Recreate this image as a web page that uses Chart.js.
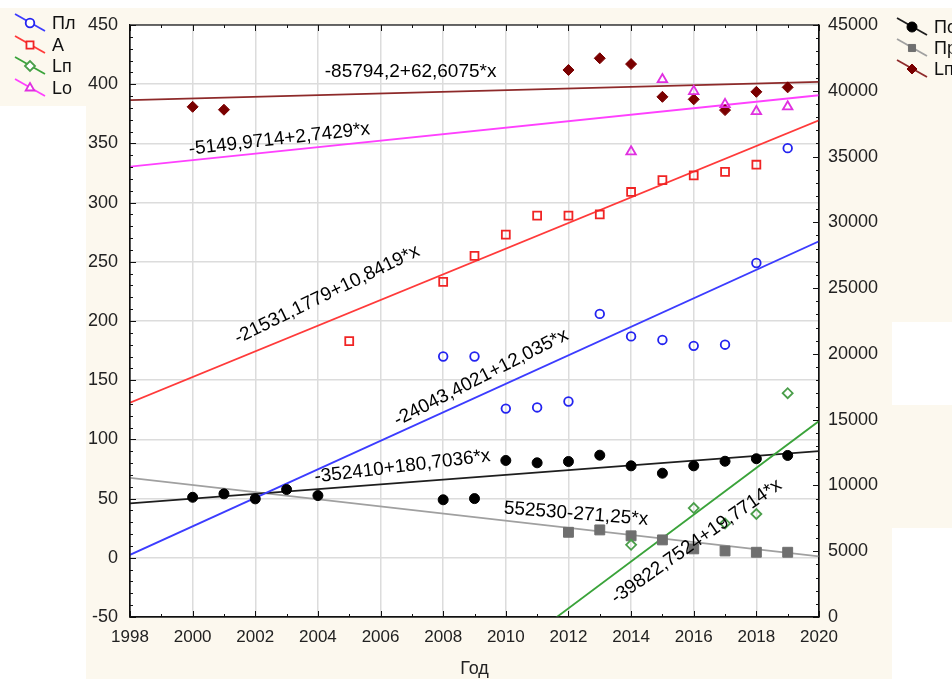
<!DOCTYPE html>
<html><head><meta charset="utf-8">
<script src="https://cdn.jsdelivr.net/npm/chart.js@4.4.1/dist/chart.umd.min.js"></script>
<style>html,body{margin:0;padding:0;background:#fcf8ee;}#wrap{width:952px;height:679px;}</style>
</head><body><div id="wrap"><canvas id="c" width="952" height="679"></canvas></div>
<script>
// ---- data ----
const xTickLabels = [1998,2000,2002,2004,2006,2008,2010,2012,2014,2016,2018,2020];
const leftTickLabels = [-50,0,50,100,150,200,250,300,350,400,450];
const rightTickLabels = [0,5000,10000,15000,20000,25000,30000,35000,40000,45000];

// left axis series
const plYears = [2008,2009,2010,2011,2012,2013,2014,2015,2016,2017,2018,2019];
const plValues = [170,170,126,127,132,206,187,184,179,180,249,346];
const aYears = [2005,2008,2009,2010,2011,2012,2013,2014,2015,2016,2017,2018];
const aValues = [183,233,255,273,289,289,290,309,319,323,326,332];
const lpLeftYears = [2014,2016,2017,2018,2019];
const lpLeftValues = [11,42,29,37,139];
const loYears = [2014,2015,2016,2017,2018,2019];
const loValues = [343,404,394,383,377,381];
// right axis series
const poYears = [2000,2001,2002,2003,2004,2008,2009,2010,2011,2012,2013,2014,2015,2016,2017,2018,2019];
const poValues = [9100,9360,8980,9690,9230,8910,9000,11900,11720,11820,12300,11490,10930,11490,11840,12030,12280];
const prYears = [2012,2013,2014,2015,2016,2017,2018,2019];
const prValues = [6440,6620,6170,5860,5180,5020,4920,4920];
const lpRightYears = [2000,2001,2012,2013,2014,2015,2016,2017,2018,2019];
const lpRightValues = [38780,38560,41580,42470,42030,39540,39350,38530,39920,40260];

// fitted lines, as printed on the chart: y = a + b*x
const fitNames = ['Пл','A','Lп','Lo','По','Пр','Lп2'];
const fitIntercepts = [-24043.4021,-21531.1779,-39822.7524,-5149.9714,-352410,552530,-85794.2];
const fitSlopes = [12.035,10.8419,19.7714,2.7429,180.7036,-271.25,62.6075];
const fitTexts = ['-24043,4021+12,035*x','-21531,1779+10,8419*x','-39822,7524+19,7714*x','-5149,9714+2,7429*x','-352410+180,7036*x','552530-271,25*x','-85794,2+62,6075*x'];
const xRange = [1998,2020];

// ---- build ----
const pts = (xs,vs)=>xs.map((x,i)=>({x:x,y:vs[i]}));
const fitPts = i => xRange.map(x=>({x:x,y:fitIntercepts[i]+fitSlopes[i]*x}));

const series = [
  {label:'Пл', d:pts(plYears,plValues), axis:'y', color:'#2323f0', line:'#3c3cff', style:'circle', r:4.3, fill:false, fit:0},
  {label:'A', d:pts(aYears,aValues), axis:'y', color:'#f02424', line:'#ff3a3a', style:'rect', r:5.6, fill:false, fit:1},
  {label:'Lп', d:pts(lpLeftYears,lpLeftValues), axis:'y', color:'#4a9e4a', line:'#3aa33a', style:'rectRot', r:5, fill:false, fit:2},
  {label:'Lo', d:pts(loYears,loValues), axis:'y', color:'#e030e0', line:'#ff40ff', style:'triangle', r:5.5, fill:false, fit:3},
  {label:'По', d:pts(poYears,poValues), axis:'y2', color:'#000000', line:'#1e1e1e', style:'circle', r:5, fill:true, fit:4},
  {label:'Пр', d:pts(prYears,prValues), axis:'y2', color:'#6f6f6f', line:'#a0a0a0', style:'rect', r:7, fill:true, fit:5},
  {label:'Lп', d:pts(lpRightYears,lpRightValues), axis:'y2', color:'#7a0000', line:'#8e2a2a', style:'rectRot', r:5.5, fill:true, fit:6}
];

const datasets = [];
series.forEach(s=>{
  datasets.push({label:s.label, data:s.d, yAxisID:s.axis, showLine:false, order:0,
    pointStyle:s.style, pointRadius:s.r, pointHoverRadius:s.r,
    pointBorderColor:s.color, pointBackgroundColor:s.fill?s.color:'rgba(0,0,0,0)', pointBorderWidth:s.fill?1:1.8});
});
series.forEach(s=>{
  datasets.push({label:'fit '+s.label, data:fitPts(s.fit), yAxisID:s.axis, showLine:true, order:1,
    borderColor:s.line, borderWidth:1.8, pointRadius:0, fill:false});
});

// label placements for the equations (centre in year / left-axis units, angle in degrees)
const eqPlaces = [
  {fit:6, x:2006.96, y:410.4, a:0},
  {fit:3, x:2002.77, y:353.5, a:-6.5},
  {fit:1, x:2004.29, y:222.2, a:-26},
  {fit:0, x:2009.21, y:152.1, a:-27},
  {fit:4, x:2006.70, y:77, a:-7},
  {fit:5, x:2012.24, y:37, a:4.5},
  {fit:2, x:2016.09, y:13.7, a:-35}
];

const FONT = '"Liberation Sans", Arial, sans-serif';
const decor = {
  id:'decor',
  beforeDraw(chart){
    const ctx=chart.ctx, a=chart.chartArea;
    ctx.save();
    ctx.fillStyle='#fcf8ee'; ctx.fillRect(0,0,chart.width,chart.height);
    ctx.fillStyle='#ffffff';
    [[0,0,952,8],[0,106,86,573],[892,322,60,83],[892,528,60,151]].forEach(r=>ctx.fillRect(r[0],r[1],r[2],r[3]));
    ctx.fillRect(a.left,a.top,a.right-a.left,a.bottom-a.top);
    ctx.restore();
  },
  afterDatasetsDraw(chart){
    const ctx=chart.ctx, xs=chart.scales.x, ys=chart.scales.y;
    ctx.save();
    ctx.font='19px '+FONT;
    ctx.fillStyle='#000'; ctx.textAlign='center'; ctx.textBaseline='middle';
    eqPlaces.forEach(p=>{
      ctx.save();
      ctx.translate(xs.getPixelForValue(p.x), ys.getPixelForValue(p.y));
      ctx.rotate(p.a*Math.PI/180);
      ctx.fillText(fitTexts[p.fit],0,0);
      ctx.restore();
    });
    ctx.restore();
  },
  afterDraw(chart){
    const ctx=chart.ctx, a=chart.chartArea, xs=chart.scales.x, ys=chart.scales.y, y2=chart.scales.y2;
    ctx.save();
    ctx.strokeStyle='#111'; ctx.lineWidth=1.2;
    ctx.strokeRect(a.left,a.top,a.right-a.left,a.bottom-a.top);
    ctx.beginPath();
    for(let v=-50; v<=450; v+=10){
      const p=Math.round(ys.getPixelForValue(v))+0.5, L=(v%50===0)?6:3;
      ctx.moveTo(a.left,p); ctx.lineTo(a.left+L,p);
    }
    for(let v=0; v<=45000; v+=1000){
      const p=Math.round(y2.getPixelForValue(v))+0.5, L=(v%5000===0)?6:3;
      ctx.moveTo(a.right,p); ctx.lineTo(a.right-L,p);
    }
    for(let v=1998; v<=2020; v++){
      const p=Math.round(xs.getPixelForValue(v))+0.5, L=(v%2===0)?6:3;
      ctx.moveTo(p,a.bottom); ctx.lineTo(p,a.bottom-L);
      ctx.moveTo(p,a.top); ctx.lineTo(p,a.top+L);
    }
    ctx.lineWidth=1; ctx.stroke();
    ctx.font='18px '+FONT; ctx.fillStyle='#222';
    ctx.textAlign='center'; ctx.textBaseline='middle';
    ctx.fillText('Год', (a.left+a.right)/2, 669);
    ctx.font='18px '+FONT; ctx.textAlign='left'; ctx.fillStyle='#111';
    const drawItem=(s,cx,cy)=>{
      ctx.save();
      ctx.strokeStyle=s.line; ctx.lineWidth=1.8;
      ctx.beginPath(); ctx.moveTo(cx-15,cy-9); ctx.lineTo(cx+15,cy+8); ctx.stroke();
      ctx.strokeStyle=s.color; ctx.fillStyle=s.fill?s.color:'#ffffff'; ctx.lineWidth=s.fill?1:1.8;
      Chart.helpers.drawPoint(ctx,{pointStyle:s.style, radius:Math.min(s.r,5), rotation:0, borderWidth:ctx.lineWidth},cx,cy);
      ctx.restore();
      ctx.fillStyle='#111';
      ctx.fillText(s.label,cx+22,cy+1);
    };
    const leftRows=[23,45,66,88];
    for(let i=0;i<4;i++) drawItem(series[i],30,leftRows[i]);
    const rightRows=[27,48,69];
    for(let i=0;i<3;i++) drawItem(series[4+i],912,rightRows[i]);
    ctx.restore();
  }
};

new Chart(document.getElementById('c'),{
  type:'scatter',
  data:{datasets:datasets},
  options:{
    responsive:false, animation:false, devicePixelRatio:1,
    layout:{padding:{top:25,left:0,right:0,bottom:0}},
    plugins:{legend:{display:false}, tooltip:{enabled:false}, title:{display:false}},
    scales:{
      x:{type:'linear', min:xRange[0], max:xRange[1],
        afterBuildTicks:s=>{s.ticks=xTickLabels.map(v=>({value:v}));},
        ticks:{font:{size:17, family:FONT}, color:'#222', padding:10, maxRotation:0, autoSkip:false, callback:v=>String(v)},
        grid:{color:'#dcdcdc', lineWidth:1.5, drawTicks:false},
        border:{display:true, color:'#111', width:1.2},
        afterFit:s=>{s.height=62;}
      },
      y:{type:'linear', position:'left', min:-50, max:450,
        afterBuildTicks:s=>{s.ticks=leftTickLabels.map(v=>({value:v}));},
        ticks:{font:{size:18, family:FONT}, color:'#222', padding:12, callback:v=>String(v)},
        grid:{color:'#dcdcdc', lineWidth:1.5, drawTicks:false},
        border:{display:true, color:'#111', width:1.2},
        afterFit:s=>{s.width=130;}
      },
      y2:{type:'linear', position:'right', min:0, max:45000,
        afterBuildTicks:s=>{s.ticks=rightTickLabels.map(v=>({value:v}));},
        ticks:{font:{size:18, family:FONT}, color:'#222', padding:9, callback:v=>String(v)},
        grid:{display:false, drawTicks:false},
        border:{display:true, color:'#111', width:1.2},
        afterFit:s=>{s.width=133;}
      }
    }
  },
  plugins:[decor]
});
</script>
</body></html>
